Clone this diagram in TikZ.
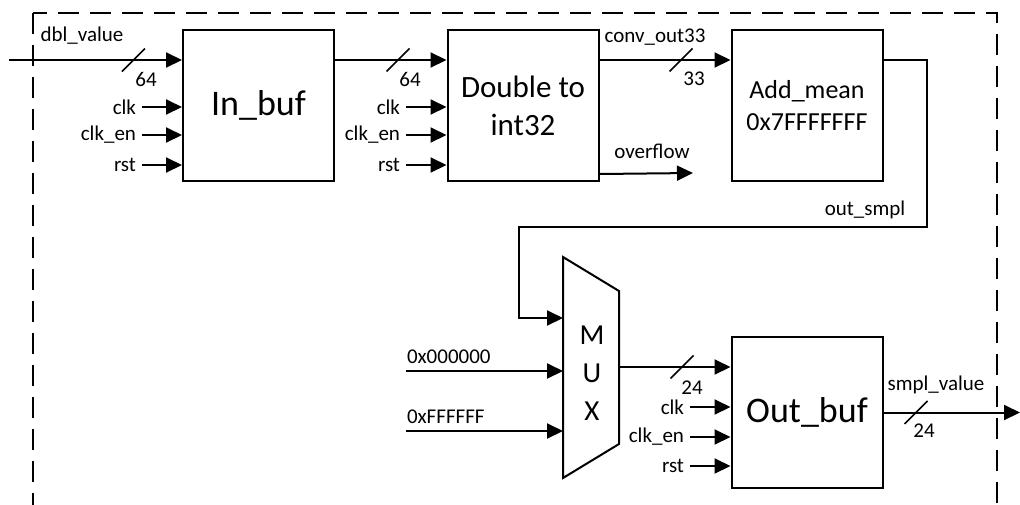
\documentclass[tikz,border=0pt]{standalone}
\usepackage{fontspec}
\setmainfont{Carlito}
\usetikzlibrary{arrows.meta,calc}
\begin{document}
\begin{tikzpicture}[x=1pt,y=-1pt,line width=2pt,
  blk/.style={draw,minimum width=151pt,minimum height=151pt,inner sep=0pt,align=center},
  sig/.style={-{Triangle[length=16pt,width=15pt]}},
  lbl/.style={font=\fontsize{21}{23}\selectfont,inner sep=0pt},
  ctl/.style={lbl,anchor=east,xshift=-5pt},
  bus/.pic={\draw[line width=1.5pt] (-11.5,11.5) -- (11.5,-11.5);}
]
\useasboundingbox (0,0) rectangle (1020,504);
% frame
\draw[dash pattern=on 21pt off 11pt] (33,13) rectangle (997,560);
% blocks
\node[blk,font=\fontsize{36}{40}\selectfont] (inbuf) at (258.5,105.5) {In\_buf};
\node[blk,font=\fontsize{31}{38}\selectfont] (dbl) at (523,105.5) {Double to\\int32};
\node[blk,font=\fontsize{26}{32}\selectfont] (addm) at (807,105.5) {Add\_mean\\0x7FFFFFFF};
\node[blk,font=\fontsize{36}{40}\selectfont] (outbuf) at (807,412.5) {Out\_buf};
\node[minimum width=54pt,minimum height=219pt,inner sep=0pt] (mux) at (591,367.5) {};
\draw (mux.north west) -- ($(mux.north east)+(0,34)$) -- ($(mux.south east)+(0,-34)$) -- (mux.south west) -- cycle;
\node[font=\fontsize{29}{38}\selectfont,align=center,inner sep=0pt] (muxt) at (592,373) {M\\U\\X};
% coordinates
\coordinate (din) at (9,60);
\coordinate (r1) at (0,60);
\coordinate (ovf) at (693,173);
\coordinate (fb1) at (927,227);
\coordinate (fb2) at (519,318);
\coordinate (z0) at (406,371);
\coordinate (zf) at (406,431);
\coordinate (mo) at (0,367);
\coordinate (sout) at (1020,412.5);
% data path
\draw[sig] (din) -- (inbuf.west |- din);
\draw[sig] (inbuf.east |- r1) -- (dbl.west |- r1);
\draw[sig] (dbl.east |- r1) -- (addm.west |- r1);
\draw[sig] ($(dbl.south east)+(0,-8)$) -- (ovf);
\draw[sig] (addm.east |- r1) -| (fb1) -| (fb2) -- (mux.west |- fb2);
\draw[sig] (z0) -- (mux.west |- z0);
\draw[sig] (zf) -- (mux.west |- zf);
\draw[sig] ($(mux.east |- mo)$) -- (outbuf.west |- mo);
\draw[sig] (outbuf.east) -- (sout);
% bus marks
\pic at (133.5,60) {bus};
\pic at (398,60) {bus};
\pic at (681,60) {bus};
\pic at (682,367) {bus};
\pic at (916,412.5) {bus};
\node[lbl] (w1) at (146,79) {64};
\node[lbl] (w2) at (410,79) {64};
\node[lbl] (w3) at (694,79) {33};
\node[lbl] (w4) at (692,388) {24};
\node[lbl] (w5) at (924,431) {24};
% signal labels
\node[lbl] (l1) at (82,36) {dbl\_value};
\node[lbl] (l2) at (655,37) {conv\_out33};
\node[lbl] (l3) at (652,151) {overflow};
\node[lbl] (l4) at (865,210) {out\_smpl};
\node[lbl,anchor=west] (l5) at (406,357) {0x000000};
\node[lbl,anchor=west] (l6) at (406,417) {0xFFFFFF};
\node[lbl] (l7) at (936,385) {smpl\_value};
% control inputs
\foreach \b/\x/\ya/\yb/\yc in {inbuf/142/107/135/165, dbl/406/107/135/165, outbuf/690/407/437/466}{
  \coordinate (c1) at (\x,\ya);
  \coordinate (c2) at (\x,\yb);
  \coordinate (c3) at (\x,\yc);
  \draw[sig] (c1) -- (\b.west |- c1);
  \draw[sig] (c2) -- (\b.west |- c2);
  \draw[sig] (c3) -- (\b.west |- c3);
  \node[ctl] at (c1) {clk};
  \node[ctl] at (c2) {clk\_en};
  \node[ctl] at (c3) {rst};
}
\end{tikzpicture}
\end{document}
